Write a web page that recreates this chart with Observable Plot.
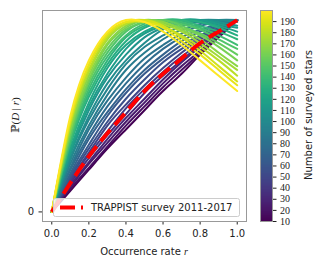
<!DOCTYPE html>
<html><head><meta charset="utf-8">
<script src="https://cdn.jsdelivr.net/npm/d3@7"></script>
<script src="https://cdn.jsdelivr.net/npm/@observablehq/plot@0.6"></script>
<style>
body{margin:0;background:#fff;}
#wrap{position:relative;width:323px;height:267px;}
#wrap svg{position:absolute;left:0;top:0;overflow:visible;}
</style></head><body><div id="wrap"></div>
<script>
// occurrence rate grid
const occurrence = [0, 0.1, 0.2, 0.3, 0.4, 0.5, 0.6, 0.7, 0.8, 0.9, 1.0];
// number of surveyed stars for each curve
const surveyedStars = [10,17,23,30,36,43,49,56,62,69,76,82,89,95,102,108,115,121,128,134,141,148,154,161,167,174,180,187,193,200];
// P(D|r) in % of maximum, one row per curve
const likelihood = [
  [0,11,22,33,43,53,63,72,82,91,100],
  [0,12,23,34,45,55,65,74,83,92,100],
  [0,13,25,36,47,57,67,76,84,92,100],
  [0,14,26,38,49,59,69,78,86,93,100],
  [0,15,28,40,51,62,71,79,87,94,100],
  [0,16,30,42,54,64,73,81,88,95,100],
  [0,17,31,45,56,66,75,83,90,95,100],
  [0,18,33,47,59,69,78,85,91,96,100],
  [0,19,35,50,62,72,80,87,92,97,100],
  [0,20,38,52,64,74,82,89,94,97,100],
  [0,22,40,55,67,77,85,91,95,98,100],
  [0,23,43,58,70,80,87,93,97,99,100],
  [0,25,45,61,74,83,90,95,98,100,100],
  [0,27,48,64,77,86,92,97,99,100,100],
  [0,28,50,67,79,88,95,98,100,100,99],
  [0,30,53,70,82,91,96,99,100,99,97],
  [0,31,55,72,85,93,97,100,100,98,96],
  [0,33,57,75,87,94,98,100,99,97,94],
  [0,35,60,77,89,96,99,100,99,96,92],
  [0,36,62,79,91,97,100,100,97,94,90],
  [0,37,64,81,92,98,100,99,96,92,87],
  [0,39,66,83,94,99,100,98,95,90,85],
  [0,40,68,85,95,99,100,97,93,88,82],
  [0,42,69,87,96,100,99,96,92,86,79],
  [0,43,71,88,97,100,99,95,90,83,76],
  [0,45,73,90,98,100,98,94,88,81,74],
  [0,46,74,91,98,100,97,92,86,79,71],
  [0,47,76,92,99,100,97,91,84,76,68],
  [0,48,77,93,99,99,96,89,82,74,66],
  [0,50,79,94,100,99,94,87,79,71,63]
];
// TRAPPIST survey 2011-2017 curve
const trappist = [0,15,29,41,52,63,72,80,88,94,100];
const xTicks = [0, 0.2, 0.4, 0.6, 0.8, 1.0];
const yTicks = [0];
const colorTicks = [10,20,30,40,50,60,70,80,90,100,110,120,130,140,150,160,170,180,190];
const colorDomain = [10, 200];

const rows = [];
surveyedStars.forEach((n, i) => occurrence.forEach((r, j) => rows.push({n, r, p: likelihood[i][j]})));
const trRows = occurrence.map((r, j) => ({r, p: trappist[j]}));

const main = Plot.plot({
  width: 323, height: 267,
  marginLeft: 42, marginRight: 77, marginTop: 10, marginBottom: 46,
  style: {fontFamily: "DejaVu Sans", fontSize: "10px", color: "#222", background: "transparent"},
  x: {domain: [-0.05, 1.05]},
  y: {domain: [-5, 105]},
  color: {type: "linear", scheme: "viridis", domain: colorDomain},
  marks: [
    Plot.line(rows, {x: "r", y: "p", z: "n", stroke: "n", strokeWidth: 2, curve: "natural"}),
    Plot.line(trRows, {x: "r", y: "p", stroke: "#ff0000", strokeWidth: 4, strokeDasharray: "15,6.5", strokeLinecap: "butt", curve: "natural"}),
    Plot.axisX({ticks: xTicks, tickFormat: d3.format(".1f"), tickSize: 3.5, tickPadding: 5, label: null, fontSize: 10}),
    Plot.axisY({ticks: yTicks, tickFormat: d => String(d), tickSize: 3.5, tickPadding: 5, label: null, fontSize: 10}),
    Plot.frame({stroke: "#999"})
  ]
});

const cbar = Plot.plot({
  width: 323, height: 267,
  marginLeft: 260, marginRight: 51, marginTop: 10, marginBottom: 46,
  style: {background: "transparent", color: "#222"},
  x: {domain: [0, 1], axis: null},
  y: {domain: colorDomain},
  color: {type: "linear", scheme: "viridis", domain: colorDomain},
  marks: [
    Plot.raster({fill: (x, y) => y, x1: 0, x2: 1, y1: 10, y2: 200, width: 1, height: 400, imageRendering: "auto"}),
    Plot.axisY({anchor: "right", ticks: colorTicks, tickSize: 3.5, tickPadding: 4, label: null, fontFamily: "Liberation Serif", fontSize: 10}),
    Plot.frame({stroke: "#999"})
  ]
});

const wrap = document.getElementById("wrap");
wrap.appendChild(main);
wrap.appendChild(cbar);

const svg = d3.select(main);
// x label
const xl = svg.append("text").attr("x", 144).attr("y", 255).attr("text-anchor", "middle")
  .attr("font-family", "DejaVu Sans").attr("font-size", 10).attr("fill", "#222");
xl.append("tspan").text("Occurrence rate ");
xl.append("tspan").attr("font-family", "Liberation Serif").attr("font-style", "italic").text("r");
// y label
const yl = svg.append("text").attr("transform", "translate(15,115) rotate(-90)").attr("text-anchor", "middle")
  .attr("dy", "0.35em").attr("font-family", "Liberation Serif, DejaVu Serif").attr("font-size", 11).attr("fill", "#222");
yl.append("tspan").text("ℙ(");
yl.append("tspan").attr("font-style", "italic").text("D");
yl.append("tspan").text(" | ");
yl.append("tspan").attr("font-style", "italic").text("r");
yl.append("tspan").text(")");
// legend
const lg = svg.append("g");
lg.append("rect").attr("x", 53.5).attr("y", 198.5).attr("width", 186).attr("height", 18).attr("rx", 2)
  .attr("fill", "white").attr("fill-opacity", 0.8).attr("stroke", "#ccc");
lg.append("line").attr("x1", 60).attr("x2", 83).attr("y1", 207.5).attr("y2", 207.5)
  .attr("stroke", "#ff0000").attr("stroke-width", 4).attr("stroke-dasharray", "15,6");
lg.append("text").attr("x", 91).attr("y", 211).attr("text-anchor", "start").attr("font-family", "DejaVu Sans").attr("font-size", 10)
  .attr("fill", "#222").text("TRAPPIST survey 2011-2017");

// colorbar label
d3.select(cbar).append("text").attr("transform", "translate(308,115) rotate(-90)").attr("text-anchor", "middle")
  .attr("dy", "0.35em").attr("font-family", "DejaVu Sans").attr("font-size", 10).attr("fill", "#222")
  .text("Number of surveyed stars");
</script>
</body></html>
